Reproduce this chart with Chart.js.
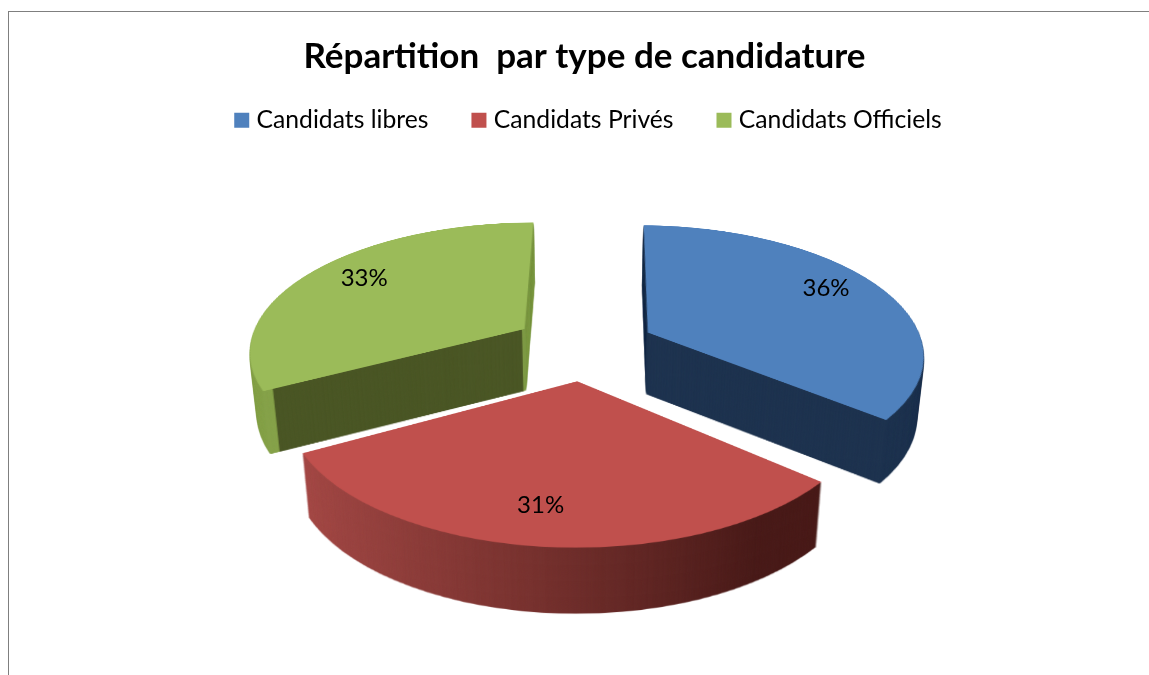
<!DOCTYPE html>
<html>
<head>
<meta charset="utf-8">
<title>Répartition par type de candidature</title>
<script src="https://cdn.jsdelivr.net/npm/chart.js@4"></script>
<style>
  html, body { margin: 0; background: #fff; overflow: hidden; }
  #wrap { position: relative; width: 1149px; height: 675px; }
  #frame { position: absolute; left: 8px; top: 11px; right: 0; bottom: 0; border-left: 1px solid #7f7f7f; border-top: 1px solid #7f7f7f; pointer-events: none; }
</style>
</head>
<body>
<div id="wrap">
  <canvas id="chart" width="1149" height="675"></canvas>
  <div id="frame"></div>
</div>
<script>
const categories = ['Candidats libres', 'Candidats Privés', 'Candidats Officiels'];
const shares = [36, 31, 33];
const faceColors = ['#4F81BD', '#C0504D', '#9BBB59'];

// tilt of the pie, screen pixels
const tilt = { cx: 585, cy: 346, radius: 269, sx: 1.025, q: 0.476, d: 1726, depth: 62, shrink: 0.022, grow: 0.02 };
const labelRadius = [0.74, 0.68, 0.71];
const labelNudge = [[7, -8], [-13, 18], [-8, -8]];

function newLayer(w, h) {
  const c = document.createElement('canvas');
  c.width = w;
  c.height = h;
  return c;
}

// flat pie position -> tilted screen position
function project(X, Y) {
  const w = 1 - Y / tilt.d;
  return [tilt.cx + tilt.sx * X / w, tilt.cy + Y * tilt.q / w];
}

// arc.draw grows the radius of an offset slice a little, so measure it the same way
function flatScale(arc) {
  const grown = arc.options.offset / 4 * (1 - Math.sin(Math.min(Math.PI, arc.circumference)));
  return tilt.radius / (arc.outerRadius + grown);
}

function sidePaint(ctx, arc, i) {
  const r = arc.outerRadius;
  const g = ctx.createLinearGradient(arc.x - r, 0, arc.x + r, 0);
  if (i === 0) {
    g.addColorStop(0, '#1F3450');
    g.addColorStop(1, '#1F3450');
  } else if (i === 1) {
    g.addColorStop(0.06, '#A44A47');
    g.addColorStop(0.42, '#7A3431');
    g.addColorStop(0.78, '#4A1C1A');
    g.addColorStop(1, '#4A1C1A');
  } else {
    const edge = (1 + Math.cos(arc.startAngle)) / 2;
    g.addColorStop(0, '#86A24A');
    g.addColorStop(edge, '#86A24A');
    g.addColorStop(edge, '#4B5726');
    g.addColorStop(0.495, '#4B5726');
    g.addColorStop(0.495, '#7E9A45');
    g.addColorStop(1, '#7E9A45');
  }
  return g;
}

// draws one slice with the library's arc element, then tilts it row by row
function tiltedSlice(arc, paint) {
  const S = 1000;
  const flat = newLayer(S, S);
  const fctx = flat.getContext('2d');
  const f = flatScale(arc);
  fctx.translate(S / 2, S / 2);
  fctx.scale(f, f);
  fctx.translate(-arc.x, -arc.y);
  const saved = arc.options;
  arc.options = Object.assign({}, saved, { backgroundColor: paint(fctx) });
  arc.draw(fctx);
  arc.options = saved;

  const out = newLayer(1149, 675);
  const octx = out.getContext('2d');
  const srcY = v => v / (tilt.q + v / tilt.d);
  for (let row = 150; row < 620; row++) {
    const v = row - tilt.cy;
    const Y = srcY(v);
    const s = tilt.sx / (1 - Y / tilt.d);
    octx.drawImage(flat, 0, S / 2 + Y, S, srcY(v + 1) - Y, tilt.cx - S / 2 * s, row, S * s, 1);
  }
  return out;
}

const pie3d = {
  id: 'pie3d',
  afterUpdate(chart) {
    // legend sits a bit right of the title
    chart.legend.left += 6;
    chart.legend.right += 6;
  },
  beforeDatasetsDraw(chart) {
    const ctx = chart.ctx;
    const arcs = chart.getDatasetMeta(0).data;
    [0, 2, 1].forEach(i => {
      const arc = arcs[i];
      const side = tiltedSlice(arc, c => sidePaint(c, arc, i));
      for (let n = tilt.depth; n >= 1; n--) {
        const t = n / tilt.depth;
        const kx = 1 - tilt.shrink * t;
        const ky = 1 + tilt.grow * t;
        ctx.drawImage(side, tilt.cx - tilt.cx * kx, tilt.cy - tilt.cy * ky + n, 1149 * kx, 675 * ky);
      }
      ctx.drawImage(tiltedSlice(arc, () => faceColors[i]), 0, 0);
    });
    ctx.save();
    ctx.font = '24px Lato';
    ctx.fillStyle = '#000';
    ctx.textAlign = 'center';
    ctx.textBaseline = 'middle';
    arcs.forEach((arc, i) => {
      const a = (arc.startAngle + arc.endAngle) / 2;
      const r = arc.options.offset / 4 * flatScale(arc) + tilt.radius * labelRadius[i];
      const p = project(Math.cos(a) * r, Math.sin(a) * r);
      ctx.fillText(shares[i] + '%', p[0] + labelNudge[i][0], p[1] + labelNudge[i][1]);
    });
    ctx.restore();
    return false;
  }
};

new Chart(document.getElementById('chart'), {
  type: 'pie',
  data: {
    labels: categories,
    datasets: [{
      data: shares,
      backgroundColor: faceColors,
      borderWidth: 0,
      offset: 187
    }]
  },
  options: {
    responsive: false,
    animation: false,
    rotation: 0.5,
    layout: { padding: { left: 20 } },
    plugins: {
      tooltip: { enabled: false },
      title: {
        display: true,
        text: 'Répartition  par type de candidature',
        color: '#000',
        font: { family: 'Lato', size: 35, weight: 'bold' },
        padding: { top: 36, bottom: -18 }
      },
      legend: {
        position: 'top',
        labels: {
          color: '#000',
          font: { family: 'Lato', size: 24.7 },
          usePointStyle: true,
          pointStyle: 'rect',
          boxWidth: 5,
          boxHeight: 15,
          padding: 48
        }
      }
    }
  },
  plugins: [pie3d]
});
</script>
</body>
</html>
